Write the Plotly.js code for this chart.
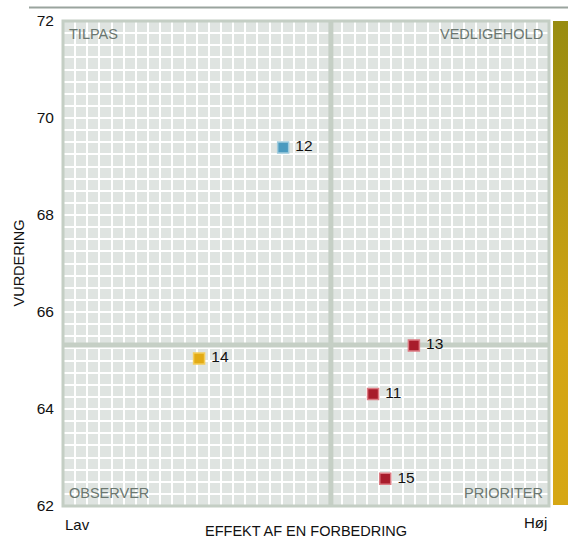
<!DOCTYPE html>
<html>
<head>
<meta charset="utf-8">
<script src="https://cdn.plot.ly/plotly-3.0.1.min.js"></script>
<style>html,body{margin:0;padding:0;background:#fff;}#chart{width:568px;height:538px;}</style>
</head>
<body>
<div id="chart"></div>
<script>
// ---- data ----
const pointLabels = ['11', '12', '13', '14', '15'];
const effekt = [6.38, 4.53, 7.22, 2.80, 6.63];       // x: effect of an improvement (Lav .. Høj)
const vurdering = [64.31, 69.39, 65.31, 65.04, 62.56]; // y: rating
const groups = ['prioriter', 'tilpas', 'prioriter', 'observer', 'prioriter'];
const yTicks = [62, 64, 66, 68, 70, 72];
const quadrantNames = ['TILPAS', 'VEDLIGEHOLD', 'OBSERVER', 'PRIORITER'];
const xEndLabels = ['Lav', 'Høj'];

// ---- styles ----
const groupFill = {prioriter: '#a81c2b', tilpas: '#4a9abf', observer: '#e2ab15'};
const groupLine = {prioriter: '#dc7a82', tilpas: '#9fcbdd', observer: '#f4cd5a'};
const FONT = 'Liberation Sans, Arial, sans-serif';

const X_RANGE = [0, 10];
const Y_RANGE = [62, 72];
const meanX = effekt.reduce((a, b) => a + b, 0) / effekt.length;
const meanY = vurdering.reduce((a, b) => a + b, 0) / vurdering.length;

const W = 568, H = 538, L = 63, R = 0, T = 21, B = 32;
const pw = W - L - R, ph = H - T - B;
const mainRight = (549 - L) / pw;
const barLeft = (553 - L) / pw;

const meanLine = {color: '#c5cfc5', width: 5};
const traces = [
  {type: 'scatter', mode: 'lines', x: [meanX, meanX], y: Y_RANGE, line: meanLine, hoverinfo: 'skip', showlegend: false},
  {type: 'scatter', mode: 'lines', x: X_RANGE, y: [meanY, meanY], line: meanLine, hoverinfo: 'skip', showlegend: false},
  {
    type: 'scatter', mode: 'markers+text',
    x: effekt, y: vurdering, text: pointLabels.map(s => ' ' + s),
    textposition: 'middle right',
    textfont: {family: FONT, size: 15.5, color: '#111'},
    marker: {
      symbol: 'square', size: 11,
      color: groups.map(g => groupFill[g]),
      line: {width: 1.5, color: groups.map(g => groupLine[g])}
    },
    hoverinfo: 'skip', showlegend: false, cliponaxis: false
  },
  {
    type: 'scatter', mode: 'none', xaxis: 'x2', yaxis: 'y2',
    x: [0, 1, 1, 0, 0], y: [0, 0, 1, 1, 0],
    fill: 'toself',
    fillgradient: {type: 'vertical', colorscale: [[0, '#d6a714'], [0.35, '#d3a514'], [1, '#988c10']]},
    hoverinfo: 'skip', showlegend: false
  }
];

const ann = [];
const qf = {family: FONT, size: 14.5, color: '#6b7770'};
ann.push({xref: 'x domain', yref: 'y domain', x: 0, y: 1, xanchor: 'left', yanchor: 'top', xshift: 4, yshift: -3, text: quadrantNames[0], showarrow: false, font: qf});
ann.push({xref: 'x domain', yref: 'y domain', x: 1, y: 1, xanchor: 'right', yanchor: 'top', xshift: -4, yshift: -3, text: quadrantNames[1], showarrow: false, font: qf});
ann.push({xref: 'x domain', yref: 'y domain', x: 0, y: 0, xanchor: 'left', yanchor: 'bottom', xshift: 4, yshift: 3, text: quadrantNames[2], showarrow: false, font: qf});
ann.push({xref: 'x domain', yref: 'y domain', x: 1, y: 0, xanchor: 'right', yanchor: 'bottom', xshift: -4, yshift: 3, text: quadrantNames[3], showarrow: false, font: qf});
const lf = {family: FONT, size: 15, color: '#111'};
ann.push({xref: 'x domain', yref: 'paper', x: 0, y: 0, xanchor: 'left', yanchor: 'middle', yshift: -18, text: xEndLabels[0], showarrow: false, font: lf});
ann.push({xref: 'x domain', yref: 'paper', x: 1, y: 0, xanchor: 'right', yanchor: 'middle', yshift: -16, text: xEndLabels[1], showarrow: false, font: lf});
ann.push({xref: 'x domain', yref: 'paper', x: 0.5, y: 0, xanchor: 'center', yanchor: 'middle', yshift: -25, text: 'EFFEKT AF EN FORBEDRING', showarrow: false, font: {family: FONT, size: 14.5, color: '#111'}});
ann.push({xref: 'paper', yref: 'paper', x: 0, y: 0.5, xanchor: 'center', yanchor: 'middle', xshift: -45, textangle: -90, text: 'VURDERING', showarrow: false, font: {family: FONT, size: 14.5, color: '#111'}});

const shapes = [
  // frame
  {type: 'rect', xref: 'x domain', yref: 'y domain', x0: 0, x1: 1, y0: 0, y1: 1, line: {color: '#c4cec4', width: 3}, fillcolor: 'rgba(0,0,0,0)', layer: 'above'},
  // top rule
  {type: 'line', xref: 'paper', yref: 'paper', x0: (29 - L) / pw, x1: 1, y0: (H - B - 7.5) / ph, y1: (H - B - 7.5) / ph, line: {color: '#9aa49e', width: 2}}
];

const layout = {
  width: W, height: H,
  margin: {l: L, r: R, t: T, b: B, pad: 0},
  paper_bgcolor: '#ffffff', plot_bgcolor: '#dfe4e1',
  font: {family: FONT, size: 15, color: '#111'},
  showlegend: false,
  xaxis: {
    domain: [0, mainRight], range: X_RANGE,
    showticklabels: false, ticks: '', zeroline: false, showline: false,
    showgrid: true, dtick: 1, gridcolor: '#ffffff', gridwidth: 2,
    minor: {dtick: 0.25, showgrid: true, gridcolor: '#ffffff', gridwidth: 2}
  },
  yaxis: {
    range: Y_RANGE, tickvals: yTicks, ticktext: yTicks.map(String),
    ticks: '', ticklabelstandoff: 8, zeroline: false, showline: false,
    tickfont: {family: FONT, size: 15.5, color: '#111'},
    showgrid: true, gridcolor: '#ffffff', gridwidth: 2,
    minor: {dtick: 0.25, showgrid: true, gridcolor: '#ffffff', gridwidth: 2}
  },
  xaxis2: {domain: [barLeft, 1], range: [0, 1], visible: false, fixedrange: true},
  yaxis2: {domain: [(H - B - 505) / ph, 1], range: [0, 1], visible: false, anchor: 'x2', fixedrange: true},
  annotations: ann,
  shapes: shapes
};

Plotly.newPlot('chart', traces, layout, {staticPlot: true, displayModeBar: false});
</script>
</body>
</html>
